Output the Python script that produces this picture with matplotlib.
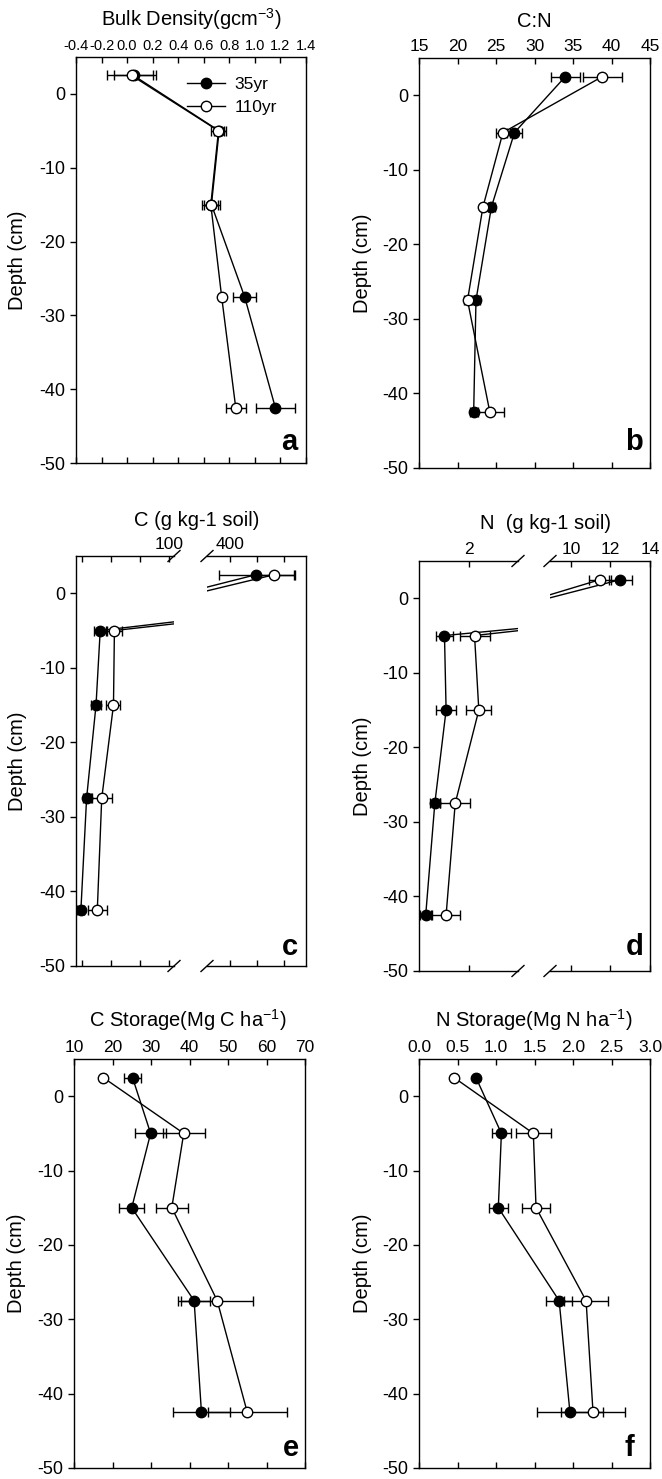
import matplotlib
matplotlib.use('Agg')
import matplotlib.pyplot as plt
from matplotlib.lines import Line2D
from matplotlib.ticker import FormatStrFormatter

plt.rcParams['font.family'] = ['Liberation Sans', 'DejaVu Sans']
plt.rcParams['axes.unicode_minus'] = False
plt.rcParams['mathtext.fontset'] = 'custom'
plt.rcParams['mathtext.rm'] = 'Liberation Sans'
plt.rcParams['mathtext.default'] = 'regular'

# depth of each sampled layer (cm)
depth = [2.5, -5, -15, -27.5, -42.5]

# bulk density (g cm-3)
bd_35 = [0.05, 0.72, 0.66, 0.92, 1.16]
bd_35_err = [0.15, 0.04, 0.055, 0.09, 0.15]
bd_110 = [0.035, 0.715, 0.655, 0.74, 0.85]
bd_110_err = [0.19, 0.06, 0.07, 0.0, 0.08]

# C:N ratio
cn_35 = [34.0, 27.4, 24.4, 22.4, 22.1]
cn_35_err = [1.9, 1.0, 0.5, 0.5, 0.5]
cn_110 = [38.8, 25.9, 23.3, 21.3, 24.2]
cn_110_err = [2.5, 0.9, 0.3, 0.4, 1.8]

# C (g kg-1 soil)
c_35 = [448, 40.9, 37.3, 29.2, 24.3]
c_35_err = [69, 5.0, 4.3, 3.5, 3.0]
c_110 = [481.6, 53.1, 52.3, 42.2, 38.4]
c_110_err = [38, 6.5, 6.0, 8.6, 8.0]

# N (g kg-1 soil)
n_35 = [12.5, 1.55, 1.58, 1.37, 1.20]
n_35_err = [0.57, 0.16, 0.18, 0.09, 0.10]
n_110 = [11.47, 2.11, 2.19, 1.75, 1.58]
n_110_err = [0.57, 0.28, 0.23, 0.28, 0.26]

# C storage (Mg C ha-1)
cs_35 = [25.2, 29.9, 25.0, 41.2, 43.1]
cs_35_err = [2.1, 4.0, 3.2, 4.1, 7.4]
cs_110 = [17.6, 38.5, 35.4, 47.2, 55.0]
cs_110_err = [0.5, 5.4, 4.2, 9.3, 10.2]

# N storage (Mg N ha-1)
ns_35 = [0.74, 1.07, 1.03, 1.82, 1.96]
ns_35_err = [0.03, 0.12, 0.12, 0.17, 0.43]
ns_110 = [0.455, 1.485, 1.52, 2.17, 2.26]
ns_110_err = [0.03, 0.23, 0.18, 0.29, 0.42]

W, H = 662, 1479
fig = plt.figure(figsize=(W / 100, H / 100), dpi=100)


def fx(x):
    return x / W


def fy(y):
    return 1 - y / H


def px_rect(x0, y0, x1, y1):
    return [x0 / W, 1 - y1 / H, (x1 - x0) / W, (y1 - y0) / H]


def style(ax, left=True, xsize=12.5):
    ax.set_ylim(-50, 5)
    ax.set_yticks(range(-50, 1, 10))
    ax.tick_params(axis='x', direction='in', top=True, bottom=True, labeltop=True,
                   labelbottom=False, length=4, width=1, labelsize=xsize, pad=3)
    ax.tick_params(axis='y', direction='out', left=left, right=False, labelleft=left,
                   length=4, width=1, labelsize=13, pad=4)
    for s in ax.spines.values():
        s.set_linewidth(1)


def profile(ax, x35, e35, x110, e110):
    ax.errorbar(x35, depth, xerr=e35, fmt='none', ecolor='black', elinewidth=1,
                capsize=3.5, capthick=1, zorder=2)
    ax.plot(x35, depth, 'o-', color='black', mfc='black', mec='black', ms=7.5, lw=1,
            label='35yr', zorder=3)
    ax.errorbar(x110, depth, xerr=e110, fmt='none', ecolor='black', elinewidth=1,
                capsize=3.5, capthick=1, zorder=4)
    ax.plot(x110, depth, 'o-', color='black', mfc='white', mec='black', ms=7.5, lw=1,
            label='110yr', zorder=5)


def slash(x, y):
    fig.add_artist(Line2D([fx(x - 6), fx(x + 6)], [fy(y + 5.5), fy(y - 5.5)],
                          transform=fig.transFigure, color='black', lw=1))


def title(x, y, s):
    fig.text(fx(x), fy(y), s, ha='center', va='baseline', fontsize=14.5)


def ylab(x, y0, y1):
    fig.text(fx(x), fy((y0 + y1) / 2), 'Depth (cm)', rotation=90, ha='center',
             va='center', fontsize=14.5)


def letter(x, y, s):
    fig.text(fx(x), fy(y), s, ha='right', va='baseline', fontsize=21, fontweight='bold')


# a: bulk density
ax = fig.add_axes(px_rect(76, 57, 306, 463))
profile(ax, bd_35, bd_35_err, bd_110, bd_110_err)
style(ax, xsize=10.5)
ax.set_xlim(-0.4, 1.4)
ax.set_xticks([-0.4 + 0.2 * i for i in range(10)])
ax.xaxis.set_major_formatter(FormatStrFormatter('%.1f'))
ax.legend(loc='upper left', bbox_to_anchor=(0.482, 0.95), frameon=False, fontsize=12.5,
          handlelength=2.2, handletextpad=0.55, labelspacing=0.42, borderpad=0,
          borderaxespad=0)
title(191, 26, 'Bulk Density(gcm$^{-3}$)')
ylab(18, 57, 463)
letter(297, 450, 'a')

# b: C:N
ax = fig.add_axes(px_rect(419, 58, 650, 468))
profile(ax, cn_35, cn_35_err, cn_110, cn_110_err)
style(ax)
ax.set_xlim(15, 45)
ax.set_xticks(range(15, 46, 5))
title(534, 27, 'C:N')
ylab(363, 58, 468)
letter(643, 450, 'b')

# c: C concentration with broken axis
axl = fig.add_axes(px_rect(76, 556, 174, 966))
axr = fig.add_axes(px_rect(207, 556, 306, 966), sharey=axl)
for a in (axl, axr):
    profile(a, c_35, c_35_err, c_110, c_110_err)
style(axl)
style(axr, left=False)
axl.set_xlim(20.1, 104.3)
axr.set_xlim(357, 540)
axl.set_xticks([25, 50, 75, 100])
axl.set_xticklabels(['', '', '', '100'])
axr.set_xticks([400, 450, 500])
axr.set_xticklabels(['400', '', ''])
axl.spines['right'].set_visible(False)
axr.spines['left'].set_visible(False)
for x in (174, 207):
    slash(x, 556)
    slash(x, 966)
title(197, 526, 'C (g kg-1 soil)')
ylab(18, 556, 966)
letter(298, 955, 'c')

# d: N concentration with broken axis
axl = fig.add_axes(px_rect(419, 561, 518, 971))
axr = fig.add_axes(px_rect(550, 561, 650, 971), sharey=axl)
for a in (axl, axr):
    profile(a, n_35, n_35_err, n_110, n_110_err)
style(axl)
style(axr, left=False)
axl.set_xlim(1.075, 2.92)
axr.set_xlim(8.94, 14.0)
axl.set_xticks([2])
axr.set_xticks([10, 12, 14])
axl.spines['right'].set_visible(False)
axr.spines['left'].set_visible(False)
for x in (518, 550):
    slash(x, 561)
    slash(x, 971)
title(546, 529, 'N  (g kg-1 soil)')
ylab(363, 561, 971)
letter(644, 955, 'd')

# e: C storage
ax = fig.add_axes(px_rect(74, 1059, 305, 1468))
profile(ax, cs_35, cs_35_err, cs_110, cs_110_err)
style(ax)
ax.set_xlim(10, 70)
ax.set_xticks(range(10, 71, 10))
title(188, 1027, 'C Storage(Mg C ha$^{-1}$)')
ylab(17, 1059, 1468)
letter(299, 1456, 'e')

# f: N storage
ax = fig.add_axes(px_rect(419, 1059, 650, 1468))
profile(ax, ns_35, ns_35_err, ns_110, ns_110_err)
style(ax)
ax.set_xlim(0, 3)
ax.set_xticks([0.5 * i for i in range(7)])
ax.xaxis.set_major_formatter(FormatStrFormatter('%.1f'))
title(534, 1027, 'N Storage(Mg N ha$^{-1}$)')
ylab(363, 1059, 1468)
letter(634, 1456, 'f')

fig.savefig('out.png', dpi=100)
